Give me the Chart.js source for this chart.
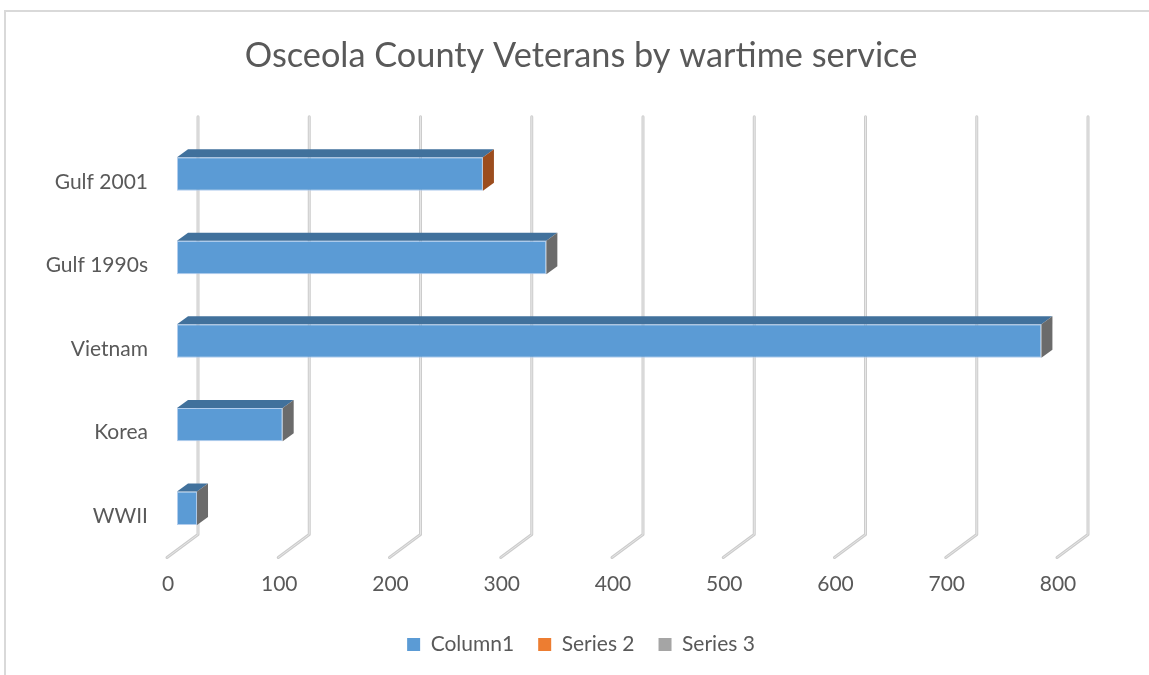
<!DOCTYPE html>
<html>
<head>
<meta charset="utf-8">
<title>Osceola County Veterans by wartime service</title>
<script src="https://cdn.jsdelivr.net/npm/chart.js@4.4.1/dist/chart.umd.min.js"></script>
<style>
  html, body { margin: 0; padding: 0; background: #fff; }
  #wrap { position: relative; width: 1149px; height: 675px; }
</style>
</head>
<body>
<div id="wrap"><canvas id="chart" width="1149" height="675"></canvas></div>
<script>
// data (WWII at the bottom, Gulf 2001 on top)
const categories = ['WWII', 'Korea', 'Vietnam', 'Gulf 1990s', 'Gulf 2001'];
const column1 = [18, 95, 777, 332, 275];
const series2 = [null, null, null, null, null];
const series3 = [null, null, null, null, null];
const seriesNames = ['Column1', 'Series 2', 'Series 3'];
const xTicks = [0, 100, 200, 300, 400, 500, 600, 700, 800];

// styling
const textColor = '#595959';
const fontFamily = 'Lato, "Open Sans", sans-serif';
const seriesColors = ['#5B9BD5', '#ED7D31', '#A5A5A5'];
const topShade = '#41719C';
const sideShade = ['#6B6B6B', '#6B6B6B', '#6B6B6B', '#6B6B6B', '#9C4D1E'];

// oblique 3d offsets (px) measured from the bar plane
const BAR_DX = 11, BAR_DY = -8;      // bar depth
const BACK_DX = 21, BACK_DY = -15.5; // back wall
const FRONT_DX = -10, FRONT_DY = 7.5; // front edge of the floor

const framePlugin = {
    id: 'frame',
    beforeDraw(chart) {
        const ctx = chart.ctx;
        ctx.save();
        ctx.strokeStyle = '#D9D9D9';
        ctx.lineWidth = 2;
        ctx.beginPath();
        ctx.moveTo(5, chart.height);
        ctx.lineTo(5, 11);
        ctx.lineTo(chart.width, 11);
        ctx.stroke();
        ctx.restore();
    }
};

// back wall gridlines that bend onto the floor
const wallGridPlugin = {
    id: 'wallGrid',
    beforeDatasetsDraw(chart) {
        const ctx = chart.ctx;
        const area = chart.chartArea;
        const xScale = chart.scales.x;
        ctx.save();
        ctx.lineJoin = 'round';
        ctx.lineCap = 'round';
        xScale.ticks.forEach(t => {
            const px = xScale.getPixelForValue(t.value);
            const path = () => {
                ctx.beginPath();
                ctx.moveTo(px + BACK_DX, area.top + BACK_DY);
                ctx.lineTo(px + BACK_DX, area.bottom + BACK_DY);
                ctx.lineTo(px + FRONT_DX, area.bottom + FRONT_DY);
                ctx.stroke();
            };
            ctx.strokeStyle = '#CCCCCC';
            ctx.lineWidth = 3;
            path();
            ctx.strokeStyle = '#E6E6E6';
            ctx.lineWidth = 1;
            path();
        });
        ctx.restore();
    }
};

// top and side faces of each bar
const bar3dPlugin = {
    id: 'bar3d',
    afterDatasetsDraw(chart) {
        const ctx = chart.ctx;
        ctx.save();
        chart.data.datasets.forEach((ds, di) => {
            const meta = chart.getDatasetMeta(di);
            meta.data.forEach((bar, i) => {
                if (ds.data[i] == null) return;
                const p = bar.getProps(['x', 'y', 'base', 'height'], true);
                const top = p.y - p.height / 2;
                const bottom = p.y + p.height / 2;
                const left = Math.min(p.base, p.x);
                const right = Math.max(p.base, p.x);

                ctx.fillStyle = topShade;
                ctx.beginPath();
                ctx.moveTo(left, top);
                ctx.lineTo(right, top);
                ctx.lineTo(right + BAR_DX, top + BAR_DY);
                ctx.lineTo(left + BAR_DX, top + BAR_DY);
                ctx.closePath();
                ctx.fill();

                ctx.fillStyle = sideShade[i];
                ctx.beginPath();
                ctx.moveTo(right, top);
                ctx.lineTo(right + BAR_DX, top + BAR_DY);
                ctx.lineTo(right + BAR_DX, bottom + BAR_DY);
                ctx.lineTo(right, bottom);
                ctx.closePath();
                ctx.fill();
            });
        });
        ctx.restore();
    }
};

const seriesData = [column1, series2, series3];

new Chart(document.getElementById('chart'), {
    type: 'bar',
    data: {
        labels: categories,
        datasets: seriesNames.map((name, k) => ({
            label: name,
            data: seriesData[k],
            backgroundColor: seriesColors[k],
            borderColor: 'rgba(170, 200, 235, 0.9)',
            borderWidth: 1,
            borderSkipped: false,
            grouped: false,
            barPercentage: 0.4,
            categoryPercentage: 1
        }))
    },
    options: {
        indexAxis: 'y',
        responsive: false,
        animation: false,
        devicePixelRatio: 1,
        layout: {
            padding: { left: 13, right: 0, top: 0, bottom: 10 }
        },
        scales: {
            x: {
                min: xTicks[0],
                max: xTicks[xTicks.length - 1],
                afterBuildTicks(scale) {
                    scale.ticks = xTicks.map(v => ({ value: v }));
                },
                afterFit(scale) {
                    scale.height = 60;
                },
                grid: { display: false },
                border: { display: false },
                ticks: {
                    color: textColor,
                    font: { family: fontFamily, size: 21 },
                    padding: 14,
                    labelOffset: -9,
                    maxRotation: 0
                }
            },
            y: {
                reverse: true,
                afterFit(scale) {
                    scale.width = 164;
                },
                grid: { display: false },
                border: { display: false },
                ticks: {
                    color: textColor,
                    font: { family: fontFamily, size: 21 },
                    padding: 21,
                    labelOffset: 8
                }
            },
            // empty right-hand margin so the plot ends where the reference does
            yRight: {
                type: 'linear',
                position: 'right',
                afterFit(scale) {
                    scale.width = 82;
                },
                grid: { display: false },
                border: { display: false },
                ticks: { display: false }
            }
        },
        plugins: {
            title: {
                display: true,
                text: 'Osceola County Veterans by wartime service',
                color: textColor,
                font: { family: fontFamily, size: 34.3, weight: 'normal' },
                padding: { top: 35, bottom: 56 }
            },
            legend: {
                position: 'bottom',
                labels: {
                    color: textColor,
                    font: { family: fontFamily, size: 21 },
                    boxWidth: 13,
                    boxHeight: 13,
                    padding: 24,
                    generateLabels(chart) {
                        return chart.data.datasets.map((ds, k) => ({
                            text: ds.label,
                            fillStyle: seriesColors[k],
                            strokeStyle: seriesColors[k],
                            lineWidth: 0,
                            fontColor: textColor,
                            datasetIndex: k,
                            hidden: false
                        }));
                    }
                }
            },
            tooltip: { enabled: false }
        }
    },
    plugins: [framePlugin, wallGridPlugin, bar3dPlugin]
});
</script>
</body>
</html>
